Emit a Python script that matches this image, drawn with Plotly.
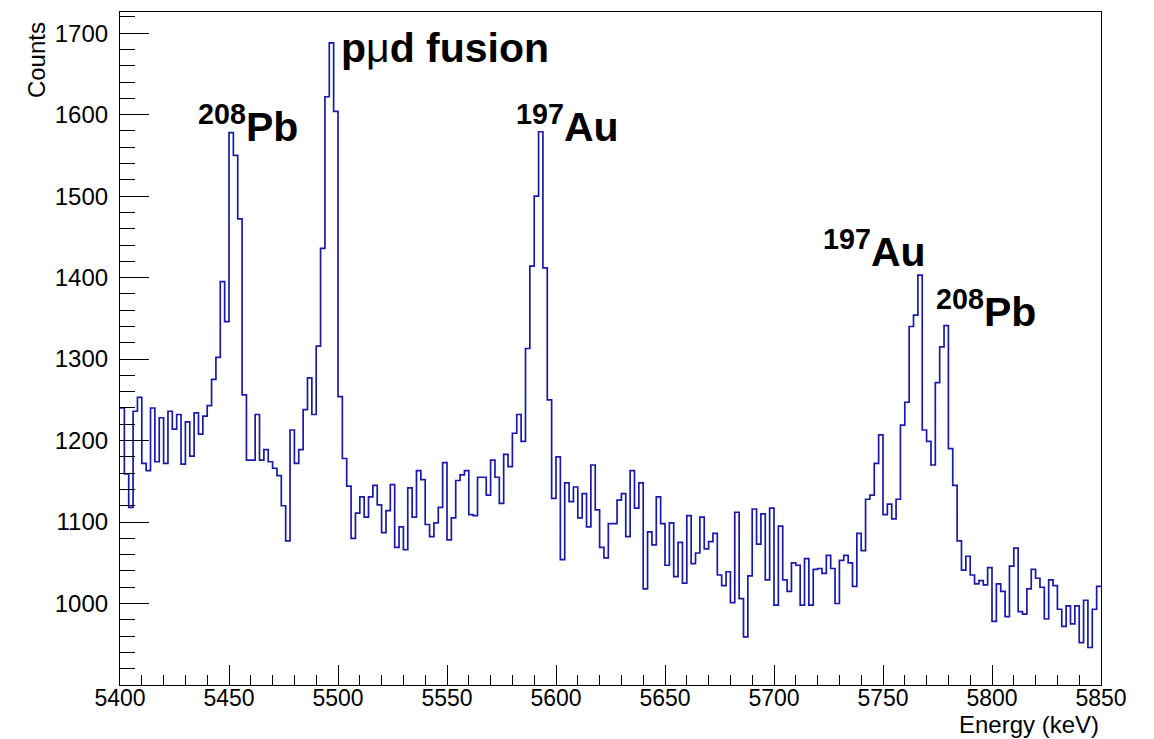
import numpy as np
import plotly.graph_objects as go

# Histogram definition: 2 keV bins from 5400 to 5850 keV
energy_start = 5400
bin_width = 2
counts = [
    1240, 1159, 1118, 1236, 1253, 1172, 1163, 1240, 1174, 1228,
    1172, 1236, 1214, 1232, 1171, 1223, 1181, 1234, 1208, 1230,
    1243, 1275, 1302, 1395, 1346, 1578, 1550, 1472, 1256, 1176,
    1176, 1232, 1176, 1189, 1174, 1166, 1157, 1120, 1077, 1213,
    1172, 1189, 1238, 1277, 1232, 1316, 1436, 1622, 1688, 1604,
    1254, 1178, 1144, 1080, 1111, 1131, 1106, 1131, 1145, 1121,
    1087, 1114, 1146, 1069, 1094, 1066, 1142, 1106, 1163, 1152,
    1097, 1082, 1099, 1118, 1173, 1078, 1105, 1151, 1158, 1163,
    1109, 1108, 1155, 1155, 1133, 1176, 1155, 1123, 1183, 1168,
    1209, 1232, 1199, 1313, 1414, 1500, 1579, 1412, 1250, 1129,
    1180, 1054, 1148, 1125, 1143, 1105, 1135, 1094, 1170, 1115,
    1069, 1056, 1098, 1098, 1127, 1135, 1082, 1163, 1117, 1148,
    1018, 1088, 1072, 1131, 1098, 1047, 1099, 1033, 1075, 1025,
    1108, 1049, 1062, 1106, 1067, 1076, 1086, 1035, 1022, 1039,
    1001, 1112, 1006, 959, 1034, 1116, 1073, 1110, 1029, 1117,
    998, 1095, 1029, 1015, 1050, 1047, 998, 1055, 998, 1042,
    1043, 1037, 1059, 1043, 1000, 1053, 1059, 1050, 1021, 1086,
    1065, 1128, 1133, 1172, 1207, 1109, 1122, 1104, 1128, 1219,
    1247, 1340, 1354, 1403, 1213, 1199, 1170, 1271, 1315, 1341,
    1190, 1145, 1077, 1041, 1058, 1035, 1024, 1028, 1023, 1044,
    978, 1024, 1015, 984, 1046, 1068, 990, 987, 1018, 1042,
    1031, 1020, 981, 1029, 1022, 993, 972, 997, 975, 997,
    952, 1004, 946, 993, 1021,
]

x_range = [5400, 5850]
y_range = [900, 1726]
x_tick_labels = ["5400", "5450", "5500", "5550", "5600", "5650", "5700", "5750", "5800", "5850"]
y_tick_labels = ["1000", "1100", "1200", "1300", "1400", "1500", "1600", "1700"]

edges = energy_start + bin_width * np.arange(len(counts) + 1)
xs = list(edges)
ys = list(counts) + [counts[-1]]

FONT = "Liberation Sans, Arial, Helvetica, sans-serif"

fig = go.Figure()
fig.add_trace(go.Scatter(
    x=xs, y=ys, mode="lines", line_shape="hv",
    line=dict(color="#1a1aa8", width=1.7),
    hoverinfo="skip", showlegend=False,
))

fig.update_layout(
    width=1154, height=739,
    margin=dict(l=120, r=53, t=12, b=54),
    paper_bgcolor="white", plot_bgcolor="white",
    font=dict(family=FONT, color="black"),
)
fig.update_xaxes(
    range=x_range, showgrid=False, zeroline=False,
    showline=True, linecolor="black", linewidth=1.2, mirror=True,
    ticks="inside", ticklen=20, tickwidth=1, tickcolor="black",
    tickmode="array", tickvals=[float(t) for t in x_tick_labels], ticktext=x_tick_labels,
    tickfont=dict(family=FONT, size=23, color="black"),
    ticklabelstandoff=-8,
    minor=dict(ticks="inside", ticklen=10, dtick=10, tick0=5400, tickcolor="black", showgrid=False),
)
fig.update_yaxes(
    range=y_range, showgrid=False, zeroline=False,
    showline=True, linecolor="black", linewidth=1.2, mirror=True,
    ticks="inside", ticklen=29, tickwidth=1, tickcolor="black",
    tickmode="array", tickvals=[float(t) for t in y_tick_labels], ticktext=y_tick_labels,
    tickfont=dict(family=FONT, size=24, color="black"),
    ticklabelstandoff=6,
    minor=dict(ticks="inside", ticklen=15, dtick=20, tick0=900, tickcolor="black", showgrid=False),
)

big = dict(family=FONT, size=41, color="black")
peak_labels = [
    ("<b><sup>208</sup>Pb</b>", 5434.8, 1588),
    ("<b>p</b>μ<b>d fusion</b>", 5500.4, 1682),
    ("<b><sup>197</sup>Au</b>", 5580.7, 1589),
    ("<b><sup>197</sup>Au</b>", 5721.5, 1435),
    ("<b><sup>208</sup>Pb</b>", 5773.4, 1361),
]
for text, xv, yv in peak_labels:
    fig.add_annotation(x=xv, y=yv, xref="x", yref="y", text=text, showarrow=False,
                       xanchor="left", yanchor="middle", font=big)

fig.add_annotation(x=1.0, y=-0.058, xref="paper", yref="paper", text="Energy (keV)",
                   showarrow=False, xanchor="right", yanchor="middle",
                   font=dict(family=FONT, size=24, color="black"))
fig.add_annotation(x=-0.0856, y=0.988, xref="paper", yref="paper", text="Counts",
                   showarrow=False, xanchor="center", yanchor="top", textangle=-90,
                   font=dict(family=FONT, size=24, color="black"))

fig.write_html("out.html")
